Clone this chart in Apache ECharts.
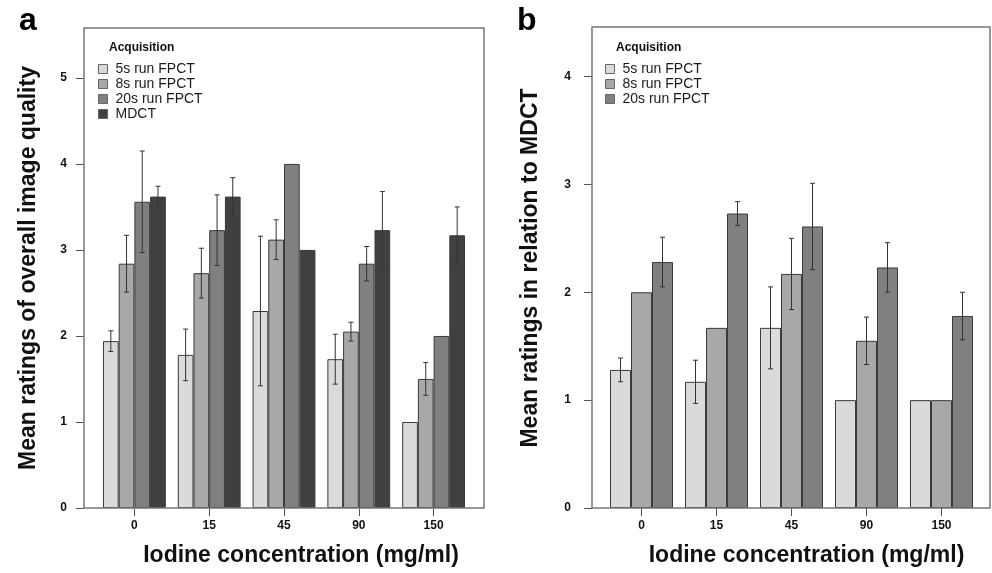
<!DOCTYPE html>
<html>
<head>
<meta charset="utf-8">
<script src="https://cdn.jsdelivr.net/npm/echarts@6/dist/echarts.min.js"></script>
<style>
  html, body { margin: 0; padding: 0; background: #fff; }
  #chart { width: 992px; height: 573px; }
</style>
</head>
<body>
<div id="chart"></div>
<script>
const categories = ['0', '15', '45', '90', '150'];
const yTicksA = [0, 1, 2, 3, 4, 5];
const yTicksB = [0, 1, 2, 3, 4];

// panel a: mean ratings of overall image quality
const a5s = [1.94, 1.78, 2.29, 1.73, 1.00];
const a5sErr = [0.12, 0.30, 0.87, 0.29, 0];
const a8s = [2.84, 2.73, 3.12, 2.05, 1.50];
const a8sErr = [0.33, 0.29, 0.23, 0.11, 0.19];
const a20s = [3.56, 3.23, 4.00, 2.84, 2.00];
const a20sErr = [0.59, 0.41, 0, 0.20, 0];
const aMDCT = [3.62, 3.62, 3.00, 3.23, 3.17];
const aMDCTErr = [0.12, 0.22, 0, 0.45, 0.33];

// panel b: mean ratings in relation to MDCT
const b5s = [1.28, 1.17, 1.67, 1.00, 1.00];
const b5sErr = [0.11, 0.20, 0.38, 0, 0];
const b8s = [2.00, 1.67, 2.17, 1.55, 1.00];
const b8sErr = [0, 0, 0.33, 0.22, 0];
const b20s = [2.28, 2.73, 2.61, 2.23, 1.78];
const b20sErr = [0.23, 0.11, 0.40, 0.23, 0.22];

const names = ['5s run FPCT', '8s run FPCT', '20s run FPCT', 'MDCT'];
const colors = ['#dadada', '#a8a8a8', '#808080', '#404040'];
const GAP = 0.16;
const FONT = 'Liberation Sans, Arial, sans-serif';
const NARROW = 'Liberation Sans Narrow, Liberation Sans, Arial, sans-serif';

const errData = (vals, errs) =>
  vals.map((v, i) => [i, v - errs[i], v + errs[i], errs[i]]).filter(d => d[3] > 0);

const errSeries = (vals, errs, idx, n, grid) => ({
  type: 'custom',
  name: 'err' + grid + idx,
  xAxisIndex: grid,
  yAxisIndex: grid,
  z: 5,
  silent: true,
  data: errData(vals, errs),
  renderItem: (params, api) => {
    const lo = api.coord([api.value(0), api.value(1)]);
    const hi = api.coord([api.value(0), api.value(2)]);
    const band = api.size([1, 0])[0];
    const bw = band * (1 - GAP) / n;
    const x = lo[0] + (idx - (n - 1) / 2) * bw;
    const c = 2.5;
    const st = { stroke: '#333', lineWidth: 1 };
    return {
      type: 'group',
      children: [
        { type: 'line', shape: { x1: x, y1: lo[1], x2: x, y2: hi[1] }, style: st },
        { type: 'line', shape: { x1: x - c, y1: hi[1], x2: x + c, y2: hi[1] }, style: st },
        { type: 'line', shape: { x1: x - c, y1: lo[1], x2: x + c, y2: lo[1] }, style: st }
      ]
    };
  }
});

const barSeries = (name, vals, grid, i) => ({
  type: 'bar',
  name: name,
  xAxisIndex: grid,
  yAxisIndex: grid,
  data: vals,
  barGap: '0%',
  barCategoryGap: (GAP * 100) + '%',
  itemStyle: { color: colors[i], borderColor: '#3a3a3a', borderWidth: 1 }
});

const xAxis = (grid, shift) => ({
  type: 'category',
  gridIndex: grid,
  data: categories,
  name: 'Iodine concentration (mg/ml)',
  nameLocation: 'middle',
  nameGap: 36,
  nameTextStyle: { fontFamily: FONT, fontWeight: 'bold', fontSize: 23, color: '#111', padding: [0, 0, 0, shift] },
  axisLine: { show: false },
  axisTick: { show: true, alignWithLabel: true, length: 8, lineStyle: { color: '#555' } },
  axisLabel: { fontFamily: NARROW, fontWeight: 'bold', fontSize: 12, color: '#111', margin: 12 }
});

const yAxis = (grid, max, ticks, name, offset, gap, margin) => ({
  type: 'value',
  gridIndex: grid,
  min: 0,
  max: max,
  offset: offset,
  name: name,
  nameLocation: 'middle',
  nameGap: gap,
  nameTextStyle: { fontFamily: FONT, fontWeight: 'bold', fontSize: 23, color: '#111' },
  splitLine: { show: false },
  axisLine: { show: false },
  axisTick: { show: true, length: 8, customValues: ticks, lineStyle: { color: '#555' } },
  axisLabel: { fontFamily: NARROW, fontWeight: 'bold', fontSize: 12, color: '#111', margin: margin, customValues: ticks }
});

const legend = (data, left) => ({
  data: data, orient: 'vertical', left: left, top: 62, padding: 0,
  itemWidth: 9, itemHeight: 9, itemGap: 1, icon: 'rect',
  itemStyle: { borderColor: '#666', borderWidth: 1 },
  textStyle: { fontFamily: FONT, fontSize: 14, lineHeight: 14, color: '#1a1a1a', padding: [0, 0, 0, 3] }
});

const chart = echarts.init(document.getElementById('chart'));
chart.setOption({
  animation: false,
  title: [
    { text: 'a', left: 14, top: 0, textStyle: { fontFamily: FONT, fontWeight: 'bold', fontSize: 32, color: '#000' } },
    { text: 'b', left: 512, top: 0, textStyle: { fontFamily: FONT, fontWeight: 'bold', fontSize: 32, color: '#000' } },
    { text: 'Acquisition', left: 104, top: 37, textStyle: { fontFamily: FONT, fontWeight: 'bold', fontSize: 12, color: '#111' } },
    { text: 'Acquisition', left: 611, top: 37, textStyle: { fontFamily: FONT, fontWeight: 'bold', fontSize: 12, color: '#111' } }
  ],
  legend: [legend(names, 98), legend(names.slice(0, 3), 605)],
  grid: [
    { left: 97, top: 28, width: 374, height: 480 },
    { left: 604, top: 28, width: 375, height: 480 }
  ],
  xAxis: [xAxis(0, 34), xAxis(1, 30)],
  yAxis: [
    yAxis(0, 5.58, yTicksA, 'Mean ratings of overall image quality', 13, 44, 17),
    yAxis(1, 4.45, yTicksB, 'Mean ratings in relation to MDCT', 12, 50, 21)
  ],
  graphic: [
    { type: 'rect', shape: { x: 84, y: 28, width: 400, height: 480 }, style: { fill: 'none', stroke: '#777', lineWidth: 1.5 }, z: 10 },
    { type: 'rect', shape: { x: 592, y: 27, width: 398, height: 481 }, style: { fill: 'none', stroke: '#777', lineWidth: 1.5 }, z: 10 }
  ],
  series: [
    barSeries(names[0], a5s, 0, 0),
    barSeries(names[1], a8s, 0, 1),
    barSeries(names[2], a20s, 0, 2),
    barSeries(names[3], aMDCT, 0, 3),
    barSeries(names[0], b5s, 1, 0),
    barSeries(names[1], b8s, 1, 1),
    barSeries(names[2], b20s, 1, 2),
    errSeries(a5s, a5sErr, 0, 4, 0),
    errSeries(a8s, a8sErr, 1, 4, 0),
    errSeries(a20s, a20sErr, 2, 4, 0),
    errSeries(aMDCT, aMDCTErr, 3, 4, 0),
    errSeries(b5s, b5sErr, 0, 3, 1),
    errSeries(b8s, b8sErr, 1, 3, 1),
    errSeries(b20s, b20sErr, 2, 3, 1)
  ]
});
</script>
</body>
</html>
